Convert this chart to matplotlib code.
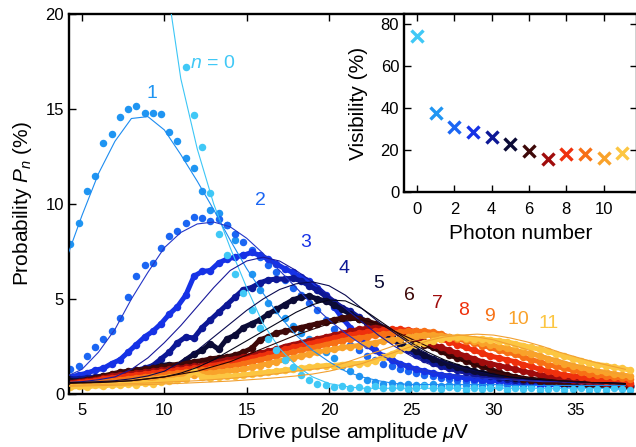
import numpy as np
import matplotlib
matplotlib.use('Agg')
import matplotlib.pyplot as plt

plt.rcParams['font.family'] = 'Liberation Sans'
plt.rcParams['mathtext.fontset'] = 'custom'
plt.rcParams['mathtext.rm'] = 'Liberation Sans'
plt.rcParams['mathtext.it'] = 'Liberation Sans:italic'

# drive amplitude grid (uV) for measured points, and for the fits
amp = np.arange(4.3, 38.31, 0.5)
amp_fit = np.arange(4, 39, 1.0)

# measured P_n (%) for n = 0..11
p0 = [60, 56, 52, 48, 45, 42, 39, 36, 33, 30,
      27, 25, 23, 21, 17.2, 14.7, 13.0, 10.6, 8.4, 7.3,
      6.3, 5.3, 4.4, 3.5, 2.9, 2.3, 1.8, 1.4, 1.0, 0.75,
      0.55, 0.45, 0.35, 0.4, 0.3, 0.35, 0.25, 0.4, 0.3, 0.3,
      0.35, 0.25, 0.3, 0.4, 0.3, 0.25, 0.35, 0.3, 0.2, 0.3,
      0.25, 0.3, 0.35, 0.2, 0.3, 0.25, 0.3, 0.2, 0.25, 0.3,
      0.2, 0.25, 0.3, 0.2, 0.25, 0.2, 0.3, 0.25, 0.2]
p1 = [7.9, 9.0, 10.7, 11.5, 13.2, 13.7, 14.6, 15.0, 15.15, 14.8,
      14.8, 14.75, 13.8, 13.3, 12.4, 11.9, 10.7, 9.7, 9.55, 8.9,
      8.1, 7.3, 6.3, 5.5, 4.8, 4.4, 4.0, 3.6, 3.2, 2.9,
      2.6, 2.2, 1.9, 1.5, 1.2, 0.95, 0.75, 0.65, 0.55, 0.6,
      0.5, 0.55, 0.45, 0.5, 0.55, 0.4, 0.5, 0.45, 0.5, 0.4,
      0.45, 0.5, 0.4, 0.45, 0.35, 0.45, 0.4, 0.35, 0.45, 0.4,
      0.35, 0.4, 0.35, 0.45, 0.3, 0.4, 0.35, 0.3, 0.35]
p2 = [1.3, 1.5, 2.0, 2.5, 2.9, 3.3, 4.0, 5.1, 6.2, 6.8,
      6.9, 7.7, 8.3, 8.6, 9.0, 9.3, 9.25, 9.1, 9.2, 8.9,
      8.4, 8.0, 7.6, 7.2, 6.8, 6.4, 6.0, 5.6, 5.2, 4.8,
      4.4, 3.9, 3.4, 3.0, 2.6, 2.3, 2.0, 1.8, 1.6, 1.45,
      1.3, 1.2, 1.1, 1.0, 0.95, 0.85, 0.8, 0.75, 0.7, 0.7,
      0.65, 0.6, 0.65, 0.6, 0.55, 0.6, 0.55, 0.5, 0.55, 0.5,
      0.5, 0.45, 0.5, 0.45, 0.4, 0.45, 0.4, 0.45, 0.4]
p3 = [0.9, 1.0, 1.1, 1.25, 1.35, 1.6, 1.8, 2.2, 2.6, 3.0,
      3.3, 3.7, 4.2, 4.6, 5.2, 6.2, 6.45, 6.5, 6.9, 7.1,
      7.2, 7.3, 7.45, 7.3, 7.1, 6.85, 6.6, 6.4, 6.15, 5.95,
      5.6, 5.2, 4.6, 4.0, 3.5, 3.0, 2.6, 2.3, 2.0, 1.8,
      1.6, 1.45, 1.3, 1.2, 1.1, 1.0, 0.95, 0.9, 0.85, 0.8,
      0.75, 0.7, 0.7, 0.65, 0.6, 0.6, 0.55, 0.55, 0.5, 0.5,
      0.5, 0.45, 0.45, 0.4, 0.45, 0.4, 0.4, 0.35, 0.4]
p4 = [0.8, 0.8, 0.85, 0.9, 0.95, 1.0, 1.05, 1.15, 1.25, 1.35,
      1.5, 1.85, 2.2, 2.7, 3.0, 2.95, 3.5, 3.9, 4.3, 4.7,
      5.1, 5.5, 5.6, 5.85, 6.0, 6.05, 6.05, 6.1, 5.95, 5.7,
      5.45, 5.15, 4.85, 4.55, 4.35, 4.05, 3.8, 3.5, 3.2, 2.9,
      2.6, 2.3, 2.05, 1.85, 1.65, 1.5, 1.35, 1.25, 1.15, 1.05,
      1.0, 0.95, 0.85, 0.8, 0.75, 0.7, 0.7, 0.65, 0.6, 0.6,
      0.55, 0.55, 0.5, 0.5, 0.5, 0.45, 0.45, 0.4, 0.4]
p5 = [0.7, 0.7, 0.75, 0.8, 0.85, 0.9, 0.95, 1.0, 1.1, 1.2,
      1.35, 1.5, 1.55, 1.5, 1.8, 2.1, 2.3, 2.65, 2.35, 2.9,
      3.1, 3.5, 3.7, 3.9, 4.2, 4.45, 4.7, 4.95, 5.1, 5.15,
      5.0, 4.9, 4.7, 4.45, 4.2, 3.95, 3.75, 3.5, 3.25, 3.0,
      2.7, 2.45, 2.25, 2.05, 1.85, 1.7, 1.55, 1.4, 1.3, 1.2,
      1.1, 1.05, 0.95, 0.9, 0.85, 0.8, 0.75, 0.7, 0.7, 0.65,
      0.6, 0.6, 0.55, 0.55, 0.5, 0.5, 0.5, 0.45, 0.45]
p6 = [0.6, 0.65, 0.75, 0.85, 0.95, 1.05, 1.15, 1.2, 1.25, 1.3,
      1.35, 1.4, 1.5, 1.55, 1.6, 1.7, 1.75, 1.85, 1.9, 1.95,
      2.05, 2.2, 2.4, 2.85, 3.0, 3.2, 3.3, 3.4, 3.5, 3.6,
      3.7, 3.8, 3.9, 4.0, 4.05, 3.95, 3.85, 3.7, 3.5, 3.35,
      3.15, 2.95, 2.75, 2.6, 2.45, 2.25, 2.05, 1.9, 1.75, 1.6,
      1.45, 1.3, 1.15, 1.0, 0.9, 0.8, 0.75, 0.7, 0.65, 0.6,
      0.55, 0.5, 0.5, 0.45, 0.45, 0.4, 0.4, 0.4, 0.35]
p7 = [0.6, 0.65, 0.7, 0.75, 0.85, 0.95, 1.0, 1.05, 1.1, 1.15,
      1.2, 1.25, 1.3, 1.35, 1.4, 1.45, 1.5, 1.6, 1.7, 1.8,
      1.85, 1.95, 2.05, 2.15, 2.25, 2.35, 2.5, 2.6, 2.7, 2.8,
      2.9, 3.0, 3.1, 3.2, 3.3, 3.4, 3.45, 3.5, 3.45, 3.35,
      3.25, 3.1, 2.95, 2.75, 2.6, 2.45, 2.3, 2.15, 2.0, 1.85,
      1.7, 1.6, 1.5, 1.4, 1.3, 1.2, 1.1, 1.0, 0.95, 0.85,
      0.8, 0.75, 0.7, 0.65, 0.6, 0.55, 0.55, 0.5, 0.5]
p8 = [0.55, 0.6, 0.65, 0.7, 0.8, 0.85, 0.9, 0.95, 1.0, 1.05,
      1.1, 1.15, 1.2, 1.25, 1.3, 1.35, 1.4, 1.5, 1.55, 1.65,
      1.7, 1.8, 1.9, 2.0, 2.1, 2.2, 2.35, 2.45, 2.55, 2.65,
      2.75, 2.85, 2.95, 3.05, 3.1, 3.2, 3.25, 3.3, 3.35, 3.4,
      3.4, 3.35, 3.3, 3.2, 3.05, 2.9, 2.75, 2.6, 2.45, 2.3,
      2.15, 2.0, 1.9, 1.8, 1.7, 1.55, 1.45, 1.3, 1.2, 1.1,
      1.0, 0.95, 0.9, 0.8, 0.75, 0.7, 0.65, 0.6, 0.6]
p9 = [0.5, 0.55, 0.55, 0.6, 0.65, 0.7, 0.75, 0.8, 0.85, 0.9,
      0.95, 1.0, 1.05, 1.1, 1.15, 1.2, 1.25, 1.3, 1.4, 1.45,
      1.5, 1.6, 1.7, 1.8, 1.9, 2.0, 2.1, 2.2, 2.3, 2.4,
      2.5, 2.6, 2.7, 2.8, 2.9, 2.95, 3.0, 3.1, 3.15, 3.2,
      3.25, 3.3, 3.3, 3.3, 3.25, 3.15, 3.0, 2.9, 2.8, 2.7,
      2.55, 2.45, 2.3, 2.2, 2.1, 1.95, 1.8, 1.7, 1.55, 1.45,
      1.35, 1.25, 1.15, 1.05, 1.0, 0.95, 0.9, 0.85, 0.8]
p10 = [0.45, 0.5, 0.5, 0.55, 0.55, 0.6, 0.6, 0.65, 0.7, 0.75,
       0.8, 0.85, 0.9, 0.95, 1.0, 1.0, 1.05, 1.1, 1.15, 1.2,
       1.25, 1.3, 1.4, 1.5, 1.6, 1.7, 1.8, 1.9, 2.0, 2.1,
       2.2, 2.3, 2.35, 2.45, 2.5, 2.55, 2.65, 2.7, 2.8, 2.85,
       2.9, 3.0, 3.05, 3.1, 3.1, 3.05, 3.0, 2.95, 2.9, 2.8,
       2.7, 2.6, 2.5, 2.4, 2.3, 2.2, 2.1, 2.0, 1.85, 1.75,
       1.6, 1.5, 1.4, 1.3, 1.2, 1.15, 1.05, 1.0, 0.95]
p11 = [0.35, 0.4, 0.35, 0.45, 0.4, 0.5, 0.45, 0.55, 0.5, 0.6,
       0.55, 0.65, 0.7, 0.75, 0.8, 1.2, 0.9, 0.85, 0.9, 0.95,
       0.95, 1.0, 1.05, 1.1, 1.15, 1.2, 1.25, 1.3, 1.35, 1.4,
       1.45, 1.5, 1.5, 1.55, 1.6, 1.6, 1.65, 1.75, 1.95, 2.1,
       2.3, 2.45, 2.6, 2.7, 2.8, 2.9, 2.95, 3.0, 2.95, 2.9,
       2.9, 2.85, 2.8, 2.75, 2.65, 2.55, 2.45, 2.35, 2.25, 2.1,
       2.0, 1.85, 1.75, 1.65, 1.55, 1.5, 1.4, 1.35, 1.25]

# fitted curves
fit0 = [70, 62, 54, 46, 38, 30, 22.5, 16.6, 12.9, 10.0, 7.7, 5.6, 3.7, 2.4, 1.5, 0.9, 0.55,
        0.4, 0.3, 0.3, 0.3, 0.3, 0.3, 0.3, 0.3, 0.3, 0.3, 0.3, 0.3, 0.3, 0.3, 0.3, 0.3, 0.3, 0.3]
fit1 = [7.0, 9.4, 11.6, 13.3, 14.5, 14.6, 13.9, 12.6, 11.2, 9.7, 8.1, 6.6, 5.3, 4.1, 3.1, 2.3,
        1.7, 1.2, 0.9, 0.7, 0.55, 0.5, 0.5, 0.5, 0.5, 0.5, 0.5, 0.45, 0.45, 0.45, 0.45, 0.45,
        0.45, 0.45, 0.45]
fit2 = [0.9, 1.3, 2.2, 3.4, 5.0, 6.4, 7.7, 8.5, 8.95, 9.05, 8.8, 8.2, 7.4, 6.5, 5.6, 4.7, 3.9,
        3.2, 2.6, 2.1, 1.7, 1.4, 1.2, 1.05, 0.95, 0.85, 0.8, 0.75, 0.7, 0.65, 0.65, 0.6, 0.6,
        0.55, 0.55]
fit3 = [0.6, 0.65, 0.75, 0.9, 1.3, 1.9, 2.7, 3.6, 4.6, 5.6, 6.5, 7.0, 7.2, 7.0, 6.5, 5.9, 5.2,
        4.5, 3.8, 3.1, 2.5, 2.0, 1.6, 1.3, 1.1, 0.95, 0.85, 0.8, 0.75, 0.7, 0.65, 0.6, 0.6,
        0.55, 0.55]
fit4 = [0.6, 0.62, 0.65, 0.7, 0.8, 0.95, 1.2, 1.7, 2.3, 3.0, 3.7, 4.4, 5.0, 5.5, 5.8, 5.9, 5.7,
        5.2, 4.5, 3.8, 3.2, 2.6, 2.1, 1.7, 1.4, 1.2, 1.0, 0.9, 0.8, 0.75, 0.7, 0.65, 0.6, 0.6,
        0.55]
fit5 = [0.6, 0.6, 0.62, 0.65, 0.7, 0.8, 0.9, 1.1, 1.4, 1.8, 2.3, 2.8, 3.3, 3.8, 4.3, 4.7, 4.95,
        4.9, 4.5, 3.9, 3.3, 2.7, 2.2, 1.8, 1.5, 1.25, 1.05, 0.9, 0.8, 0.75, 0.7, 0.65, 0.6, 0.6,
        0.55]
fit6 = [0.55, 0.58, 0.6, 0.65, 0.7, 0.8, 0.9, 1.05, 1.2, 1.45, 1.7, 2.05, 2.4, 2.75, 3.1, 3.4,
        3.7, 3.85, 3.9, 3.7, 3.3, 2.9, 2.5, 2.1, 1.8, 1.5, 1.25, 1.05, 0.9, 0.8, 0.7, 0.65, 0.6,
        0.55, 0.5]
fit10 = [0.45, 0.47, 0.5, 0.52, 0.55, 0.58, 0.62, 0.66, 0.7, 0.76, 0.82, 0.9, 0.98, 1.08, 1.2,
         1.3, 1.4, 1.65, 1.95, 2.25, 2.55, 2.8, 3.0, 3.1, 3.1, 3.0, 2.85, 2.6, 2.35, 2.05, 1.8,
         1.55, 1.35, 1.15, 1.0]
fit11 = [0.4, 0.42, 0.44, 0.46, 0.48, 0.5, 0.53, 0.56, 0.6, 0.64, 0.68, 0.74, 0.8, 0.87, 0.95,
         1.05, 1.2, 1.4, 1.6, 1.9, 2.2, 2.5, 2.8, 3.0, 3.1, 3.15, 3.1, 2.95, 2.75, 2.5, 2.2,
         1.95, 1.7, 1.5, 1.3]

# inset: visibility per photon number
photon_n = list(range(12))
visibility = [74.4, 37.8, 30.8, 28.6, 26.0, 22.9, 19.7, 15.6, 18.0, 18.1, 16.4, 18.7]

colors = ['#40c8f6', '#1f95f2', '#1b66f3', '#1632e6', '#0d1896', '#0b0b36',
          '#3e0808', '#a00c0c', '#ef300c', '#f77015', '#f9a22a', '#fcc642']
series = [p0, p1, p2, p3, p4, p5, p6, p7, p8, p9, p10, p11]

fig = plt.figure(figsize=(6.36, 4.47), dpi=100)
ax = fig.add_axes([69/636, 1-394/447, 567/636, 380/447])

# draw n=1..11 first, n=0 on top
for n in list(range(1, 12)) + [0]:
    c = colors[n]
    if n >= 3:
        ax.plot(amp, series[n], '-', lw=3.6, color=c, solid_capstyle='round', zorder=2)
    ax.plot(amp, series[n], 'o', ms=5.4, color=c, mec='none', zorder=2)

fits = [(fit0, '#3cc6f6'), (fit1, '#1d8cf0'), (fit2, '#2436c8'), (fit3, '#18189a'),
        (fit4, '#0a0a50'), (fit5, '#050518'), (fit6, '#2a0505'),
        (fit10, '#f2a030'), (fit11, '#f2a030')]
for f, c in fits:
    ax.plot(amp_fit, f, '-', lw=0.8, color=c, zorder=3)

ax.set_xlim(4.21, 38.65)
ax.set_ylim(0, 20)
ax.set_xticks([5, 10, 15, 20, 25, 30, 35])
ax.set_yticks([0, 5, 10, 15, 20])
ax.spines['right'].set_visible(False)
for s in ['left', 'bottom', 'top']:
    ax.spines[s].set_linewidth(1.7)
ax.tick_params(direction='in', top=True, right=False, length=5, width=1, labelsize=12)
ax.tick_params(axis='x', pad=6.5)
ax.set_xlabel(r'Drive pulse amplitude $\mu$V', fontsize=15, labelpad=2)
ax.set_ylabel(r'Probability $P_n$ (%)', fontsize=15, labelpad=8)

# curve labels
ax.text(12.96, 17.4, r'$n$ = 0', color=colors[0], fontsize=14, ha='center', va='center')
label_x = [9.23, 15.81, 18.61, 20.94, 23.0, 24.87, 26.6, 28.16, 29.75, 31.5, 33.33]
label_y = [15.83, 10.2, 7.96, 6.6, 5.83, 5.16, 4.77, 4.39, 4.1, 3.9, 3.72]
for i in range(11):
    ax.text(label_x[i], label_y[i], str(i + 1), color=colors[i + 1], fontsize=14,
            ha='center', va='center')

# inset
axin = fig.add_axes([404/636, 1-192/447, 233/636, 178/447])
for n in photon_n:
    axin.plot(photon_n[n], visibility[n], 'x', ms=9, mew=2.4, color=colors[n])
axin.set_xlim(-0.7, 11.79)
axin.set_ylim(0, 84.8)
axin.set_xticks([0, 2, 4, 6, 8, 10])
axin.set_yticks([0, 20, 40, 60, 80])
for s in axin.spines.values():
    s.set_linewidth(1.7)
axin.tick_params(direction='in', top=True, right=True, length=5, width=1, labelsize=12)
axin.tick_params(axis='x', pad=7.5)
axin.set_xlabel('Photon number', fontsize=15, labelpad=5)
axin.set_ylabel('Visibility (%)', fontsize=15, labelpad=9)

fig.savefig('out.png', dpi=100)
